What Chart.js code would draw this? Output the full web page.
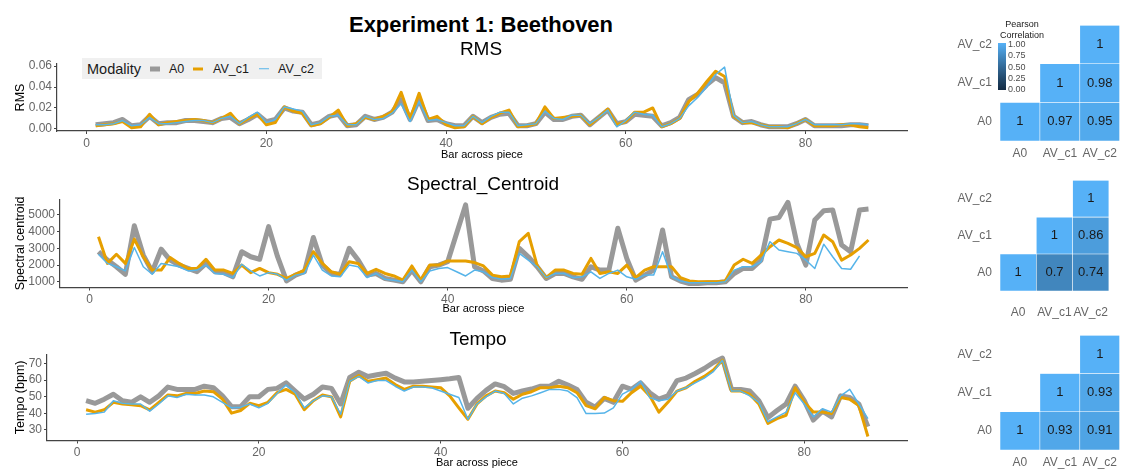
<!DOCTYPE html>
<html>
<head>
<meta charset="utf-8">
<script src="https://cdn.jsdelivr.net/npm/chart.js@4.4.0/dist/chart.umd.min.js"></script>
<style>
  body { margin: 0; background: #fff; font-family: "Liberation Sans", Arial, sans-serif; }
  #page { position: relative; width: 1122px; height: 470px; overflow: hidden; }
  canvas { position: absolute; }
  .txt { position: absolute; white-space: nowrap; line-height: 1; transform: translate(-50%, -50%); color: #000; z-index: 2; }
  #legend { position: absolute; left: 82px; top: 58px; width: 240px; height: 21px; background: #f0f0f0; z-index: 2; }
  #legend span { position: absolute; top: 50%; transform: translateY(-50%); line-height: 1; white-space: nowrap; color: #1a1a1a; }
  #legend i { position: absolute; top: 50%; transform: translateY(-50%); }
  #cbar { position: absolute; left: 998px; top: 43px; width: 8px; height: 47px; z-index: 2; }
  .cb { position: absolute; left: 1008px; font-size: 9px; line-height: 1; transform: translateY(-50%); color: #4d4d4d; z-index: 2; }
</style>
</head>
<body>
<div id="page">
  <div class="txt" style="left:481px;top:25px;font-size:22px;font-weight:bold">Experiment 1: Beethoven</div>
  <div class="txt" style="left:481px;top:48px;font-size:19px">RMS</div>
  <div class="txt" style="left:483px;top:183px;font-size:19px">Spectral_Centroid</div>
  <div class="txt" style="left:478px;top:338px;font-size:19px">Tempo</div>

  <div id="legend">
    <span style="left:5px;font-size:14.5px">Modality</span>
    <i style="left:68px;width:10px;height:5px;background:#999999"></i>
    <span style="left:87px;font-size:12.5px">A0</span>
    <i style="left:111px;width:10px;height:3px;background:#E69F00"></i>
    <span style="left:131px;font-size:12.5px">AV_c1</span>
    <i style="left:177px;width:10px;height:1.5px;background:#56B4E9"></i>
    <span style="left:196px;font-size:12.5px">AV_c2</span>
  </div>

  <div class="txt" style="left:1022px;top:24px;font-size:9px;color:#1a1a1a">Pearson</div>
  <div class="txt" style="left:1022px;top:35px;font-size:9px;color:#1a1a1a">Correlation</div>
  <div id="cbar"></div>
  <div id="cbLabels"></div>

  <canvas id="rmsChart" width="920" height="115" style="left:0;top:50px"></canvas>
  <canvas id="centroidChart" width="920" height="130" style="left:0;top:190px"></canvas>
  <canvas id="tempoChart" width="920" height="125" style="left:0;top:345px"></canvas>
  <canvas id="rmsHeat" width="197" height="155" style="left:925px;top:10px"></canvas>
  <canvas id="centroidHeat" width="197" height="155" style="left:925px;top:165px"></canvas>
  <canvas id="tempoHeat" width="197" height="150" style="left:925px;top:320px"></canvas>
</div>
<script>
const bars = Array.from({length: 87}, (_, i) => i + 1);
const modalities = ['A0', 'AV_c1', 'AV_c2'];

const rmsA0 = [.004,.005,.006,.009,.003,.004,.012,.005,.006,.006,
  .008,.008,.007,.006,.010,.011,.005,.009,.014,.007,
  .009,.020,.017,.016,.004,.006,.012,.014,.003,.004,
  .012,.009,.011,.016,.028,.009,.028,.008,.009,.005,
  .003,.003,.012,.006,.011,.014,.015,.003,.003,.005,
  .016,.009,.009,.012,.013,.004,.011,.018,.005,.007,
  .014,.013,.012,.003,.006,.011,.028,.033,.042,.049,
  .044,.012,.006,.007,.004,.002,.002,.002,.005,.009,
  .003,.003,.003,.003,.004,.004,.003];
const rmsAVc1 = [.003,.004,.005,.007,.001,.002,.014,.004,.006,.007,
  .008,.009,.008,.006,.010,.015,.005,.010,.014,.004,
  .006,.021,.017,.015,.003,.005,.011,.018,.003,.005,
  .011,.009,.012,.016,.035,.010,.034,.009,.012,.004,
  .001,.002,.012,.005,.011,.015,.018,.002,.003,.005,
  .021,.010,.011,.012,.013,.004,.011,.019,.004,.007,
  .016,.016,.020,.002,.005,.010,.026,.034,.045,.055,
  .050,.012,.006,.006,.004,.002,.002,.001,.005,.009,
  .003,.003,.003,.004,.004,.002,.001];
const rmsAVc2 = [.004,.004,.005,.008,.003,.004,.011,.005,.005,.006,
  .007,.008,.008,.006,.010,.012,.005,.011,.016,.006,
  .009,.021,.019,.017,.004,.006,.012,.013,.004,.004,
  .012,.009,.010,.015,.024,.007,.026,.008,.009,.006,
  .003,.003,.012,.006,.012,.016,.016,.003,.004,.005,
  .017,.010,.009,.013,.013,.005,.011,.018,.002,.008,
  .016,.014,.013,.002,.005,.010,.022,.030,.040,.052,
  .059,.013,.006,.007,.004,.002,.002,.002,.005,.009,
  .004,.004,.004,.004,.005,.005,.004];

const centroidA0 = [2800,2300,1900,1450,4350,2600,1600,2950,2300,2000,
  1800,1600,2100,1600,1550,1300,2800,2500,2350,4300,
  2500,1050,1400,1600,3650,2000,1500,1450,3000,2300,
  1400,1500,1200,1100,1000,1700,1000,1900,2000,2200,
  3900,5600,1900,1650,1200,1100,1150,3000,2500,1900,
  1200,1500,1500,1300,1150,1900,1700,1700,4200,2400,
  1100,1400,1700,4100,1300,1050,900,900,950,950,
  1000,1500,1800,1800,2300,4750,4850,5750,3300,2000,
  4700,5250,5300,3200,2800,5300,5350];
const centroidAVc1 = [3700,2100,2650,2100,3550,2500,1700,1700,2450,2100,
  1800,1800,2350,1700,1700,1500,2000,1550,1800,1550,
  1450,1200,1450,1700,2800,2100,1600,1450,2200,2100,
  1500,1750,1500,1350,1100,1950,1100,2000,2000,2250,
  2250,2250,2150,1950,1400,1300,1350,3400,3900,1950,
  1250,1700,1700,1500,1450,2400,1500,1600,1500,2000,
  1250,1700,1900,1900,1900,1250,1050,1000,1000,1000,
  1050,2000,2350,2100,2600,3100,3500,3300,3050,2500,
  2700,3800,3400,2300,2600,3000,3500];
const centroidAVc2 = [2650,2100,1900,1650,3050,1900,1450,2100,2000,1900,
  1650,1700,2000,1500,1450,1250,2050,1650,1350,1550,
  1450,1100,1400,1500,2600,1700,1350,1300,2000,1900,
  1250,1500,1150,1100,1000,1700,1000,1650,1800,1850,
  1600,1350,1700,1600,1250,1150,1200,2700,2300,1900,
  1250,1500,1500,1250,1300,1600,1200,1500,1700,1300,
  1150,1400,1400,2800,1300,1050,950,950,950,950,
  1000,1700,1900,1900,2200,3400,2900,2800,2700,2300,
  1800,3250,2500,1800,1750,2550,null];

const tempoA0 = [47.6,46,48.5,51.5,47.6,46.6,49.9,46.6,50.5,55.8,
  54.4,54.4,54.4,56.3,55.4,50.5,44,44,50,50,
  54.4,55,58.3,53.4,48.5,51.5,55.8,55,45.6,61.6,
  64.7,62.2,63.2,64.1,61.2,58.9,58.9,59.3,59.7,60.2,
  60.8,61.6,43,49,53.8,57.7,56,52,53.4,54.6,
  56.3,56.3,59.3,57,54.4,46.6,43.7,49,46.6,56.3,
  54.4,58.3,52.4,48.5,50.5,59.7,61.2,64,67,70.6,
  73.3,54.4,54.4,53.4,47.6,37.4,41.7,45.6,56.3,47.6,
  35.9,41.3,37.8,50.5,49.5,45.6,32];
const tempoAVc1 = [42.1,40.7,42.1,46.6,45.6,45.2,44.6,42.1,46.6,51,
  50.5,51.9,51.9,53.4,53,48.5,40.1,41.7,46,44.6,
  46.6,52.4,54.4,51.5,42.1,47.6,51,49.9,37.8,59.3,
  62.8,59.3,60.2,61.2,57.3,54.4,56.3,56.3,55.8,55.4,
  50.5,43.3,36.4,45.6,50.5,53.4,52.4,48.5,51.5,53,
  55.4,55.4,56.3,55.4,52.4,44.6,42.7,49.5,47.6,47.2,
  52.4,56.3,50.5,40.7,46.6,53.4,55.4,59.3,62.2,66.1,
  72,53.4,53.4,51.5,45.6,33.9,36.8,38.8,55.4,46.6,
  40.7,40.7,39.8,49.5,48.5,44.6,26];
const tempoAVc2 = [39.4,39.8,40.7,47.6,46,45.6,45.6,41.3,45.6,50.5,
  49.5,51.5,51,51,49.9,46.6,43.3,43.7,45.6,43.3,
  46,51.9,57,52.4,43.3,47.6,50.5,49.9,39.4,59.3,
  62.2,58.3,59.7,59.7,56.3,53.4,55.8,55.8,55.4,53.4,
  51.5,49.5,36.4,45.6,49.9,53.4,51.9,45.6,49.1,50.5,
  52.4,54.4,54.4,53.4,49.5,39.8,39.8,40.1,43.3,51.5,
  54.4,59.3,49.5,47.6,48.5,53.4,55.4,58.3,61.2,65.1,
  72,53.4,53.4,50.5,46.6,34.9,37.8,40.7,52.4,45.6,
  37.8,42.7,40.7,50.5,54.4,45.6,36.8];

// correlation rows from bottom: A0, AV_c1, AV_c2
const rmsCorr = [[1, 0.97, 0.95], [null, 1, 0.98], [null, null, 1]];
const centroidCorr = [[1, 0.7, 0.74], [null, 1, 0.86], [null, null, 1]];
const tempoCorr = [[1, 0.93, 0.91], [null, 1, 0.93], [null, null, 1]];

const xTicks = [0, 20, 40, 60, 80];
const rmsTicks = [0, 0.02, 0.04, 0.06];
const centroidTicks = [1000, 2000, 3000, 4000, 5000];
const tempoTicks = [30, 40, 50, 60, 70];
const colorbarTicks = [1, 0.75, 0.5, 0.25, 0];

const family = '"Liberation Sans", Arial, sans-serif';
const lineColors = ['#999999', '#E69F00', '#56B4E9'];
const lineWidths = [5, 3, 1.5];
const tickColor = '#666666';
const axisColor = '#444444';

// ggplot-like gradient, interpolated in Lab
function toLin(c) { c /= 255; return c <= 0.04045 ? c / 12.92 : Math.pow((c + 0.055) / 1.055, 2.4); }
function fromLin(c) {
    c = c <= 0.0031308 ? 12.92 * c : 1.055 * Math.pow(c, 1 / 2.4) - 0.055;
    return Math.round(Math.max(0, Math.min(1, c)) * 255);
}
function hexToLab(h) {
    const [r, g, b] = [1, 3, 5].map(i => toLin(parseInt(h.slice(i, i + 2), 16)));
    const x = (0.4124 * r + 0.3576 * g + 0.1805 * b) / 0.95047;
    const y = 0.2126 * r + 0.7152 * g + 0.0722 * b;
    const z = (0.0193 * r + 0.1192 * g + 0.9505 * b) / 1.08883;
    const f = t => t > 0.008856 ? Math.cbrt(t) : 7.787 * t + 16 / 116;
    return [116 * f(y) - 16, 500 * (f(x) - f(y)), 200 * (f(y) - f(z))];
}
function labToCss([L, a, b]) {
    const fy = (L + 16) / 116, fx = fy + a / 500, fz = fy - b / 200;
    const fi = t => t * t * t > 0.008856 ? t * t * t : (t - 16 / 116) / 7.787;
    const x = fi(fx) * 0.95047, y = fi(fy), z = fi(fz) * 1.08883;
    const rgb = [3.2406 * x - 1.5372 * y - 0.4986 * z, -0.9689 * x + 1.8758 * y + 0.0415 * z, 0.0557 * x - 0.2040 * y + 1.0570 * z];
    return 'rgb(' + rgb.map(fromLin).join(',') + ')';
}
const lowLab = hexToLab('#132B43'), highLab = hexToLab('#56B1F7');
function corrColor(v) { return labToCss(lowLab.map((l, i) => l + (highLab[i] - l) * v)); }

document.getElementById('cbar').style.background =
    'linear-gradient(to top,' + [0, 0.25, 0.5, 0.75, 1].map(corrColor).join(',') + ')';
document.getElementById('cbLabels').innerHTML = colorbarTicks
    .map(v => '<div class="cb" style="top:' + (44 + (1 - v) * 45) + 'px">' + v.toFixed(2) + '</div>').join('');

const axisGrid = { drawOnChartArea: false, drawTicks: true, tickLength: 3, color: axisColor, lineWidth: 1 };
const axisBorder = { display: true, color: axisColor, width: 1.2 };

function lineChart(id, series, yTicks, yRange, yTitle, fmt, box) {
    new Chart(document.getElementById(id), {
        type: 'line',
        data: {
            labels: bars,
            datasets: series.map((d, i) => ({
                label: modalities[i],
                data: d,
                borderColor: lineColors[i],
                borderWidth: lineWidths[i],
                borderJoinStyle: 'round',
                pointRadius: 0,
                tension: 0,
                spanGaps: false,
                order: 2 - i
            }))
        },
        options: {
            responsive: false,
            animation: false,
            layout: { padding: { left: 0, right: 13, top: box.top, bottom: 0 } },
            plugins: { legend: { display: false }, tooltip: { enabled: false } },
            scales: {
                x: {
                    type: 'linear', min: -3.3, max: 91.3,
                    afterBuildTicks: s => { s.ticks = xTicks.map(v => ({ value: v })); },
                    afterFit: s => { s.height = box.xh; },
                    grid: axisGrid, border: axisBorder,
                    ticks: { color: tickColor, font: { size: 12, family }, padding: 2, maxRotation: 0 },
                    title: { display: true, text: 'Bar across piece', color: '#000',
                             font: { size: 11, family }, padding: { top: 0, bottom: box.tp } }
                },
                y: {
                    min: yRange[0], max: yRange[1],
                    afterBuildTicks: s => { s.ticks = yTicks.map(v => ({ value: v })); },
                    afterFit: s => { s.width = box.yw; },
                    grid: axisGrid, border: axisBorder,
                    ticks: { color: tickColor, font: { size: 12, family }, padding: 2, callback: v => fmt(v) },
                    title: { display: true, text: yTitle, color: '#000',
                             font: { size: 12.5, family }, padding: { top: 13, bottom: 0 } }
                }
            }
        }
    });
}

lineChart('rmsChart', [rmsA0, rmsAVc1, rmsAVc2], rmsTicks, [-0.002, 0.062], 'RMS',
    v => v.toFixed(2), { top: 14, xh: 34, tp: 3, yw: 57 });
lineChart('centroidChart', [centroidA0, centroidAVc1, centroidAVc2], centroidTicks, [660, 5940], 'Spectral centroid',
    v => String(v), { top: 8, xh: 32.5, tp: 4, yw: 60 });
lineChart('tempoChart', [tempoA0, tempoAVc1, tempoAVc2], tempoTicks, [23.6, 75.6], 'Tempo (bpm)',
    v => String(v), { top: 8, xh: 29.5, tp: 0.5, yw: 47 });

const cellText = {
    id: 'cellText',
    afterDatasetsDraw(chart) {
        const ctx = chart.ctx;
        ctx.save();
        ctx.font = '13px ' + family;
        ctx.fillStyle = '#1a1a1a';
        ctx.textAlign = 'center';
        ctx.textBaseline = 'middle';
        chart.data.datasets.forEach((ds, i) => {
            chart.getDatasetMeta(i).data.forEach((bar, j) => {
                const v = ds.values[j];
                if (v === null) return;
                ctx.fillText(String(v), bar.x, (bar.y + bar.base) / 2);
            });
        });
        ctx.restore();
    }
};

function heatmap(id, corr, box) {
    new Chart(document.getElementById(id), {
        type: 'bar',
        data: {
            labels: modalities,
            datasets: corr.map((row, r) => ({
                data: row.map(v => v === null ? null : [r - 0.5, r + 0.5]),
                values: row,
                backgroundColor: row.map(v => v === null ? 'rgba(0,0,0,0)' : corrColor(v)),
                borderColor: 'rgba(255,255,255,0.5)',
                borderWidth: 0.6,
                borderSkipped: false,
                grouped: false,
                barPercentage: 1,
                categoryPercentage: 1
            }))
        },
        options: {
            responsive: false,
            animation: false,
            layout: { padding: { left: 0, right: 0, top: box.top, bottom: 0 } },
            plugins: { legend: { display: false }, tooltip: { enabled: false } },
            scales: {
                x: {
                    grid: { display: false, drawTicks: false }, border: { display: false },
                    ticks: { color: tickColor, font: { size: 12, family }, padding: box.xp },
                    afterFit: s => { s.height = box.xh; }
                },
                y: {
                    type: 'linear', min: -0.5, max: 2.5,
                    afterBuildTicks: s => { s.ticks = [0, 1, 2].map(v => ({ value: v })); },
                    afterFit: s => { s.width = 75; },
                    grid: { display: false, drawTicks: false }, border: { display: false },
                    ticks: { color: tickColor, font: { size: 12, family }, padding: 8, callback: v => modalities[v] }
                }
            }
        },
        plugins: [cellText]
    });
}

heatmap('rmsHeat', rmsCorr, { top: 10, xh: 24, xp: 5 });
heatmap('centroidHeat', centroidCorr, { top: 9, xh: 29, xp: 14 });
heatmap('tempoHeat', tempoCorr, { top: 8, xh: 20, xp: 5 });
</script>
</body>
</html>
